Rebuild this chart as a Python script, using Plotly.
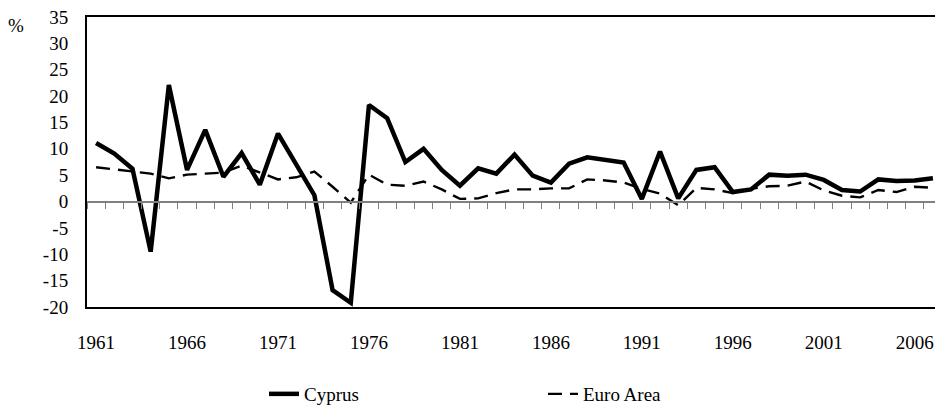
import plotly.graph_objects as go

years = [str(y) for y in range(1961, 2008)]
cyprus = [11.1, 9.1, 6.2, -9.5, 22.1, 6.0, 13.6, 4.7, 9.2, 3.2,
          12.9, 7.2, 1.2, -16.8, -19.2, 18.3, 15.8, 7.5, 10.0, 6.0,
          3.0, 6.3, 5.3, 8.9, 4.9, 3.6, 7.2, 8.4, 8.0, 7.4,
          0.5, 9.5, 0.6, 6.0, 6.5, 1.8, 2.3, 5.1, 4.9, 5.1,
          4.1, 2.2, 1.9, 4.2, 3.9, 4.0, 4.4]
euro = [6.5, 6.1, 5.7, 5.3, 4.4, 5.1, 5.3, 5.5, 6.8, 5.5,
        4.2, 4.6, 5.7, 2.8, -0.2, 5.1, 3.2, 3.0, 3.8, 2.3,
        0.5, 0.6, 1.6, 2.3, 2.3, 2.5, 2.5, 4.2, 4.0, 3.6,
        2.4, 1.5, -0.7, 2.6, 2.3, 1.6, 2.4, 2.9, 3.0, 3.8,
        2.1, 1.1, 0.8, 2.2, 1.8, 2.8, 2.6]
tick_years = years[::5]
y_ticks = [-20, -15, -10, -5, 0, 5, 10, 15, 20, 25, 30, 35]
y_tick_labels = ["-20", "-15", "-10", "-5", "0", "5", "10", "15", "20", "25", "30", "35"]
y_min, y_max = -20, 35

FONT = "Liberation Serif"
FS = 19
fig = go.Figure()
fig.add_trace(go.Scatter(x=years, y=cyprus, name="Cyprus", mode="lines",
                         line=dict(color="black", width=4.5)))
fig.add_trace(go.Scatter(x=years, y=euro, name="Euro Area", mode="lines",
                         line=dict(color="black", width=2.4, dash="14px,8px")))

n = len(years)
zero_pos = (0 - y_min) / (y_max - y_min)

# page body has an 8px default margin; size the figure to fit the 943x414 window
fig.update_layout(
    width=935, height=406,
    margin=dict(l=79, r=1, t=9, b=107, autoexpand=False),
    paper_bgcolor="white", plot_bgcolor="white",
    font=dict(family=FONT, size=FS, color="black"),
    showlegend=True,
    legend=dict(orientation="h", x=0.207, xanchor="left", y=-0.30, yanchor="middle",
                entrywidth=234, entrywidthmode="pixels",
                font=dict(family=FONT, size=FS, color="black")),
    xaxis=dict(type="category", range=[-0.5, n - 0.5], automargin=False,
               tickmode="array", tickvals=tick_years, ticktext=tick_years,
               showline=True, linecolor="black", linewidth=2, mirror=True,
               showgrid=False, zeroline=False, ticks="", ticklabelstandoff=17,
               ticklabeloverflow="allow"),
    xaxis2=dict(overlaying="x", anchor="free", position=zero_pos, automargin=False,
                range=[-0.5, n - 0.5], tick0=0.5, dtick=1,
                ticks="outside", ticklen=7, tickcolor="#808080", tickwidth=1,
                showticklabels=False, showline=True, linecolor="#808080",
                linewidth=1.5, showgrid=False, zeroline=False),
    yaxis=dict(range=[y_min, y_max], tickmode="array", tickvals=y_ticks,
               ticktext=y_tick_labels, automargin=False,
               showline=True, linecolor="black", linewidth=2, mirror=True,
               showgrid=False, zeroline=False, ticks="", ticklabelstandoff=13,
               ticklabeloverflow="allow"),
    annotations=[dict(text="%", xref="paper", yref="paper", x=-0.083, y=0.972,
                      xanchor="center", yanchor="middle", showarrow=False,
                      font=dict(family=FONT, size=FS, color="black"))],
)
fig.add_trace(go.Scatter(x=[None], y=[None], xaxis="x2", showlegend=False,
                         hoverinfo="skip"))
fig.write_html("out.html")
